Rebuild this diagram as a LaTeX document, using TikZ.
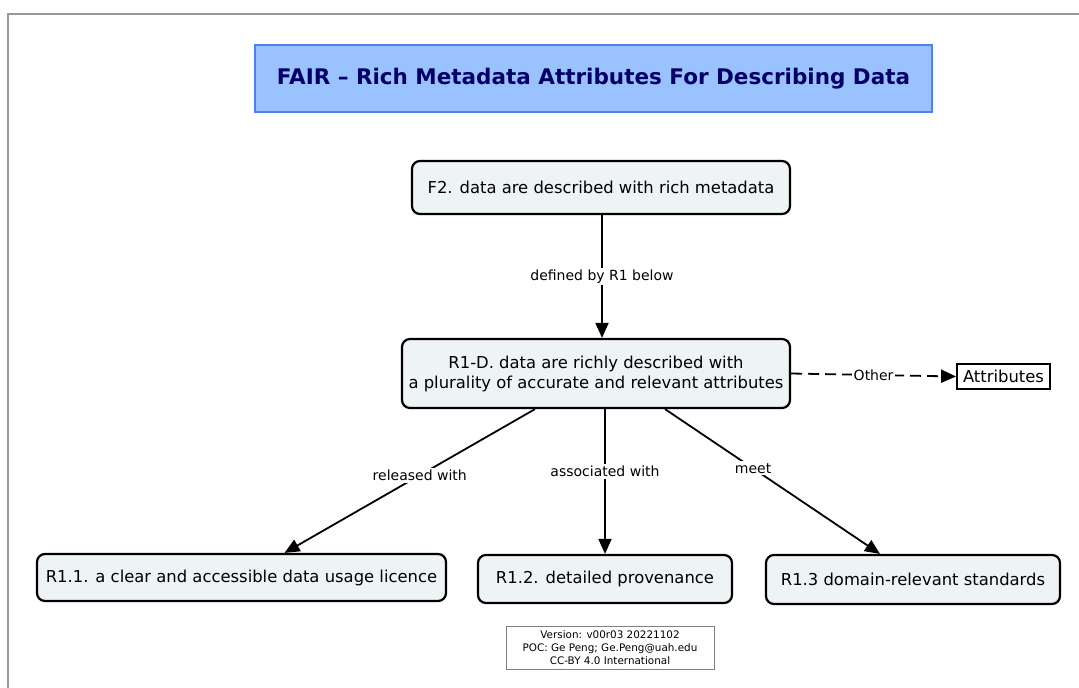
\documentclass[tikz,border=0pt]{standalone}
\usepackage{fontspec}
\setmainfont{DejaVu Sans}
\usetikzlibrary{calc,arrows.meta}
\definecolor{titlefill}{HTML}{99C2FF}
\definecolor{titledraw}{HTML}{4D80F0}
\definecolor{titletext}{HTML}{000066}
\definecolor{boxfill}{HTML}{EEF3F6}

\begin{document}
\begin{tikzpicture}[x=1pt,y=-1pt,
concept/.style={draw,line width=2.2pt,rounded corners=8pt,fill=boxfill,align=center,inner sep=0pt,font=\fontsize{16.4}{20}\selectfont},
link/.style={line width=1.8pt,-{Triangle[length=15pt,width=13pt]}},
lbl/.style={fill=white,inner sep=2pt,font=\fontsize{14}{17}\selectfont}]
\useasboundingbox (0,0) rectangle (1079,688);
\draw[gray!80,line width=2.4pt] (8,688) -- (8,14) -- (1079,14);
% title
\node[fill=titlefill,draw=titledraw,line width=1.5pt,minimum width=677pt,minimum height=67pt,text=titletext,font=\bfseries\fontsize{21.5}{25}\selectfont] (title) at (593.5,78.5) {FAIR -- Rich Metadata Attributes For Describing Data};
% concepts
\node[concept,minimum width=378pt,minimum height=53pt] (f2) at (601,187.5) {F2. data are described with rich metadata};
\node[concept,minimum width=388pt,minimum height=69pt] (r1d) at (596,373.5) {R1-D. data are richly described with\\a plurality of accurate and relevant attributes};
\node[draw,line width=1.8pt,fill=white,minimum width=93pt,minimum height=25pt,inner sep=0pt,font=\fontsize{16.4}{20}\selectfont] (attr) at (1003.5,376.5) {Attributes};
\node[concept,minimum width=409pt,minimum height=47pt] (r11) at (241.5,577.5) {R1.1. a clear and accessible data usage licence};
\node[concept,minimum width=254pt,minimum height=48pt] (r12) at (605,579) {R1.2. detailed provenance};
\node[concept,minimum width=294pt,minimum height=49pt] (r13) at (913,579.5) {R1.3 domain-relevant standards};
% version note
\node[draw=gray,line width=0.8pt,minimum width=208pt,minimum height=43pt,inner sep=0pt,align=center,font=\fontsize{10.4}{12.8}\selectfont] (ver) at (610,647.5) {Version: v00r03 20221102\\POC: Ge Peng; Ge.Peng@uah.edu\\CC-BY 4.0 International};
% links
\draw[link] ($(f2.south)+(1,0)$) -- node[lbl] {defined by R1 below} ($(r1d.north)+(6,0)$);
\draw[link,dash pattern=on 11pt off 6pt] (r1d.east) -- node[lbl] {Other} (attr.west);
\draw[link] ($(r1d.south)+(-61,0)$) -- node[lbl,pos=0.46] {released with} ($(r11.north)+(43,0)$);
\draw[link] (r12.north |- r1d.south) -- node[lbl,pos=0.43] {associated with} (r12.north);
\draw[link] ($(r1d.south)+(69,0)$) -- node[lbl,pos=0.41] {meet} ($(r13.north)+(-33,0)$);
\end{tikzpicture}
\end{document}
